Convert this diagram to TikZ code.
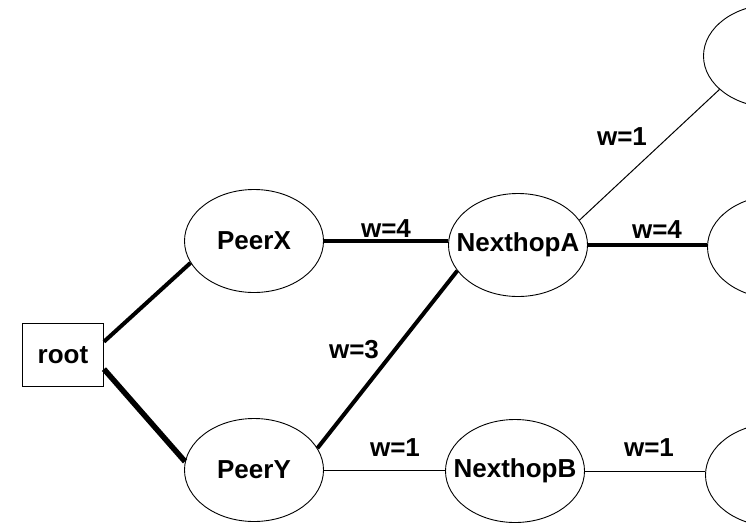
\documentclass[tikz,border=0pt]{standalone}
\usepackage{fontspec}
\setmainfont{Liberation Sans}
\usetikzlibrary{shapes.geometric}
% zero-width text so the ellipse keeps its own size
\newcommand\ctrtxt[1]{\makebox[0pt][c]{#1}}
\tikzset{
  peer/.style={draw, ellipse, line width=0.9pt, inner sep=0pt,
    minimum width=139pt, minimum height=103pt,
    font=\fontsize{26}{26}\selectfont\bfseries},
  rootbox/.style={draw, rectangle, line width=0.9pt, inner sep=0pt,
    minimum width=81pt, minimum height=63pt,
    font=\fontsize{26}{26}\selectfont\bfseries},
  wlabel/.style={font=\fontsize{26}{26}\selectfont\bfseries, inner sep=0pt},
  heavy/.style={line width=4pt},
  heavier/.style={line width=5.5pt},
  light/.style={line width=1pt}
}
\begin{document}
\begin{tikzpicture}[x=1pt,y=-1pt]
\useasboundingbox (0,0) rectangle (746,525);
\clip (0,0) rectangle (746,525);

% nodes
\node[rootbox] (root) at (63,355) {\ctrtxt{root}};
\node[peer] (PeerX) at (254,241) {\ctrtxt{PeerX}};
\node[peer] (PeerY) at (254,470) {\ctrtxt{PeerY}};
\node[peer] (NexthopA) at (518,245) {\ctrtxt{NexthopA}};
\node[peer] (NexthopB) at (515,471) {\ctrtxt{NexthopB}};
\node[peer] (TopR) at (773,56) {};
\node[peer] (MidR) at (777,247) {};
\node[peer] (BotR) at (775,475) {};

% connectors
\draw[heavy] (root.18) -- (PeerX.199);
\draw[heavier] (root.-19) -- (PeerY.173);
\draw[heavy] (PeerX.east) -- (PeerX.east -| NexthopA.west);
\draw[heavy] (PeerY.19) -- (NexthopA.203);
\draw[light] (PeerY.east) -- (PeerY.east -| NexthopB.west);
\draw[light] (NexthopA.22) -- (TopR.212);
\draw[heavy] (NexthopA.east) -- (NexthopA.east -| MidR.west);
\draw[light] (NexthopB.east) -- (NexthopB.east -| BotR.west);

% weights
\node[wlabel] (wXA) at (386,229) {w=4};
\node[wlabel] (wYA) at (354,350) {w=3};
\node[wlabel] (wYB) at (395,448) {w=1};
\node[wlabel] (wAT) at (622,137) {w=1};
\node[wlabel] (wAM) at (657,230) {w=4};
\node[wlabel] (wBB) at (649,448) {w=1};
\end{tikzpicture}
\end{document}
